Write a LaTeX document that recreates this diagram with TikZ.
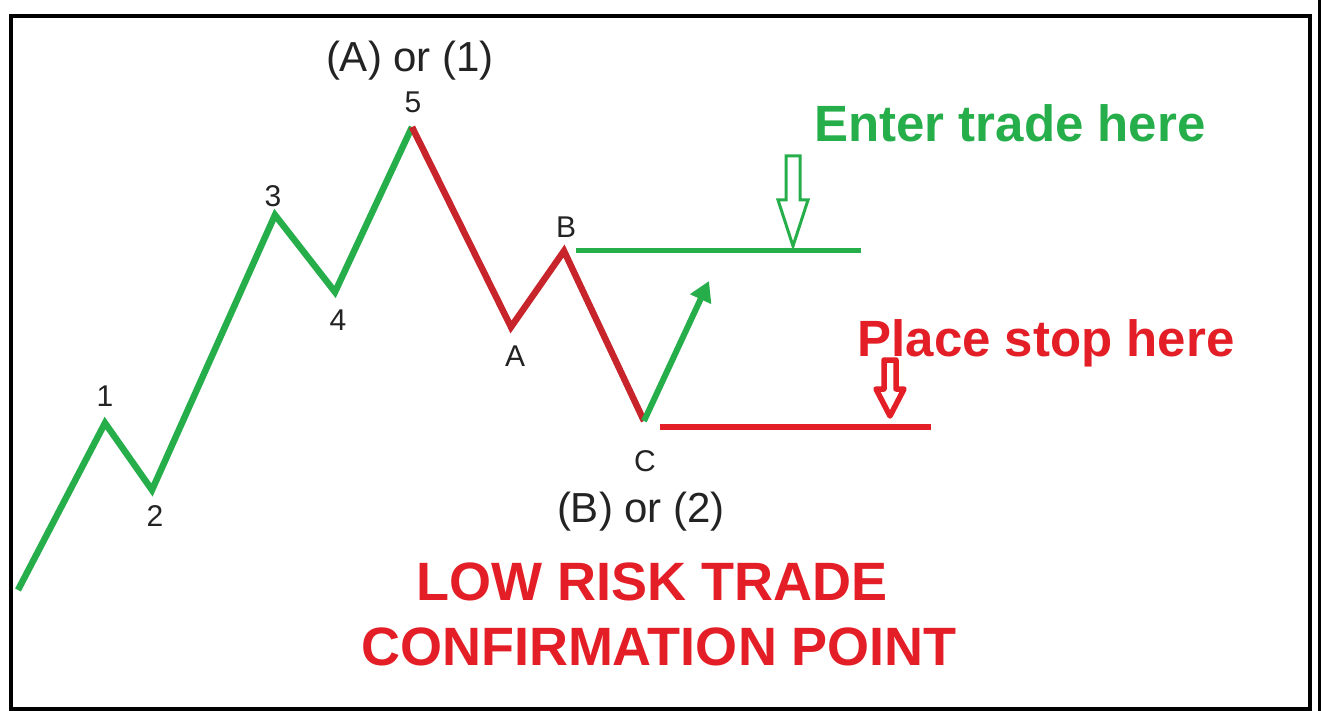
\documentclass[tikz,border=0pt]{standalone}
\usepackage{fontspec}
\setmainfont{Liberation Sans}
\usetikzlibrary{arrows.meta}
\definecolor{wgreen}{RGB}{38,174,74}
\definecolor{wred}{RGB}{200,36,44}
\definecolor{tred}{RGB}{228,30,38}
\definecolor{lbl}{RGB}{35,35,35}
\begin{document}
\begin{tikzpicture}[x=1pt,y=-1pt,
  wave/.style={line width=6.5pt,line join=miter,line cap=butt},
  lab/.style={text=lbl,font=\fontsize{30}{30}\selectfont,inner sep=0pt},
  big/.style={font=\fontsize{42}{42}\selectfont,text=lbl,inner sep=0pt,anchor=base},
  title/.style={font=\bfseries\fontsize{54}{54}\selectfont,text=tred,inner sep=0pt,anchor=base},
  note/.style={font=\bfseries\fontsize{51}{51}\selectfont,inner sep=0pt,anchor=base}]
\useasboundingbox (0,0) rectangle (1321,711);
\fill[white] (0,0) rectangle (1321,711);
% frame
\draw[line width=4pt] (11,16) rectangle (1310,709);
\draw[line width=3pt] (1319,0) -- (1319,711);
% wave points
\coordinate (s) at (18,590);
\coordinate (w1) at (105,423);
\coordinate (w2) at (152,490);
\coordinate (w3) at (275,215);
\coordinate (w4) at (335,292);
\coordinate (w5) at (412,127);
\coordinate (wa) at (511,327);
\coordinate (wb) at (564,251);
\coordinate (wc) at (644,421);
\coordinate (ga) at (709,281);
\coordinate (el) at (576,250);
\coordinate (er) at (861,250);
\coordinate (sl) at (660,427);
\coordinate (sr) at (931,427);
% waves
\draw[wave,wgreen] (s) -- (w1) -- (w2) -- (w3) -- (w4) -- (w5);
\draw[wave,wred] (w5) -- (wa) -- (wb) -- (wc);
\draw[line width=6pt,wgreen,-{Triangle[length=20pt,width=22pt]}] (wc) -- (ga);
% levels
\draw[line width=5pt,wgreen] (el) -- (er);
\draw[line width=6pt,tred] (sl) -- (sr);
% hollow arrows
\draw[wgreen,line width=3pt,line join=miter,fill=white]
  (786,156) -- (800,156) -- (800,200) -- (808,200) -- (793,246) -- (778,200) -- (786,200) -- cycle;
\draw[tred,line width=5.5pt,line join=round,fill=white]
  (884,360) -- (896,360) -- (896,389) -- (904,389) -- (890,416) -- (876,389) -- (884,389) -- cycle;
% labels
\node[lab] (l1) at (105,396) {1};
\node[lab] (l2) at (155,516) {2};
\node[lab] (l3) at (273,196) {3};
\node[lab] (l4) at (338,320) {4};
\node[lab] (l5) at (413,102) {5};
\node[lab] (la) at (515,356) {A};
\node[lab] (lb) at (566,227) {B};
\node[lab] (lc) at (645,461) {C};
\node[big] (t1) at (410,72) {(A) or (1)};
\node[big] (t2) at (641,522) {(B) or (2)};
\node[note,text=wgreen] (enter) at (1010,142) {Enter trade here};
\node[note,text=tred] (stop) at (1046,356) {Place stop here};
\node[title] (low) at (652,600) {LOW RISK TRADE};
\node[title] (conf) at (659,665) {CONFIRMATION POINT};
\end{tikzpicture}
\end{document}
